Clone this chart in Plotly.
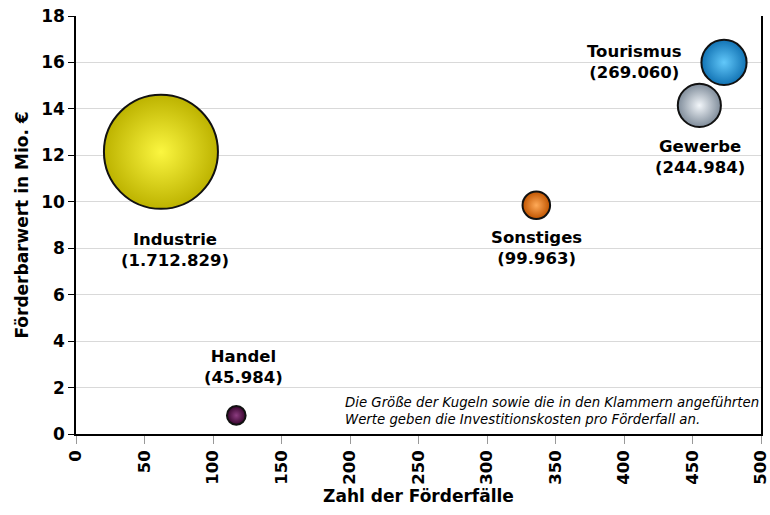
import plotly.graph_objects as go

# Data
categories = ["Industrie", "Tourismus", "Gewerbe", "Sonstiges", "Handel"]
faelle = [62, 473, 455, 336, 117]            # Zahl der Förderfälle
barwert = [12.15, 16.0, 14.15, 9.85, 0.8]    # Förderbarwert in Mio. €
invest = [1712829, 269060, 244984, 99963, 45984]  # Investitionskosten pro Förderfall
invest_labels = ["1.712.829", "269.060", "244.984", "99.963", "45.984"]

x_ticks = list(range(0, 501, 50))
y_ticks = list(range(0, 19, 2))

# Styles
edge_colors = ["#bdb300", "#1273b4", "#7f8c9a", "#c05400", "#36042c"]
center_colors = ["#fbf640", "#62c8fa", "#f2f6fa", "#ffaa58", "#8c3c80"]
label_pos = {
    "Industrie": dict(xanchor="center", yanchor="top", xshift=14, yshift=-76),
    "Tourismus": dict(xanchor="right", yanchor="middle", xshift=-40, yshift=0),
    "Gewerbe": dict(xanchor="center", yanchor="top", xshift=1, yshift=-30),
    "Sonstiges": dict(xanchor="center", yanchor="top", xshift=0, yshift=-21),
    "Handel": dict(xanchor="center", yanchor="bottom", xshift=7, yshift=26),
}

FONT = "DejaVu Sans, Liberation Sans, Arial, sans-serif"
max_d = 114
sizeref = 2.0 * max(invest) / (max_d ** 2)

fig = go.Figure()
fig.add_trace(go.Scatter(
    x=faelle, y=barwert, mode="markers",
    marker=dict(
        size=invest, sizemode="area", sizeref=sizeref,
        color=edge_colors, opacity=1,
        gradient=dict(type="radial", color=center_colors),
        line=dict(color="#111111", width=2),
    ),
    hoverinfo="skip", showlegend=False, cliponaxis=False,
))

for cat, xv, yv, lab in zip(categories, faelle, barwert, invest_labels):
    p = label_pos[cat]
    fig.add_annotation(
        x=xv, y=yv, xref="x", yref="y", text=f"{cat}<br>({lab})",
        showarrow=False, align="center",
        font=dict(family=FONT, size=16.5, color="#000000", weight="bold"),
        **p,
    )

fig.add_annotation(
    x=1.0, y=0.056, xref="paper", yref="paper", xanchor="right", yanchor="middle",
    text="Die Größe der Kugeln sowie die in den Klammern angeführten<br>Werte geben die Investitionskosten pro Förderfall an.",
    showarrow=False, align="left",
    font=dict(family=FONT, size=13.3, color="#000000", style="italic"),
)

fig.update_layout(
    width=770, height=515,
    margin=dict(l=76, r=9, t=16, b=81),
    paper_bgcolor="white", plot_bgcolor="white",
    font=dict(family=FONT, color="#000000"),
    xaxis=dict(
        range=[0, 500], tickvals=x_ticks, ticktext=[str(v) for v in x_ticks],
        tickangle=-90, showgrid=False, zeroline=False, automargin=False,
        ticklabeloverflow="allow",
        showline=True, linecolor="#000000", linewidth=1.5,
        ticks="outside", ticklen=8, tickcolor="#999999", tickwidth=1,
        tickfont=dict(family=FONT, size=16.5, weight="bold"),
        title=dict(text="Zahl der Förderfälle", standoff=6,
                   font=dict(family=FONT, size=17, weight="bold")),
    ),
    yaxis=dict(
        range=[0, 18], tickvals=y_ticks, ticktext=[str(v) for v in y_ticks],
        showgrid=True, gridcolor="#d9d9d9", gridwidth=1, zeroline=False,
        automargin=False, ticklabeloverflow="allow",
        showline=True, linecolor="#000000", linewidth=1.5, mirror=True,
        ticks="outside", ticklen=6, tickcolor="#000000",
        tickfont=dict(family=FONT, size=17, weight="bold"),
        title=dict(text="Förderbarwert in Mio. €", standoff=8,
                   font=dict(family=FONT, size=17, weight="bold")),
    ),
)

fig.write_html(
    "out.html",
    config={"displayModeBar": False},
    post_script="document.body.style.margin='0';document.body.style.padding='0';",
)
